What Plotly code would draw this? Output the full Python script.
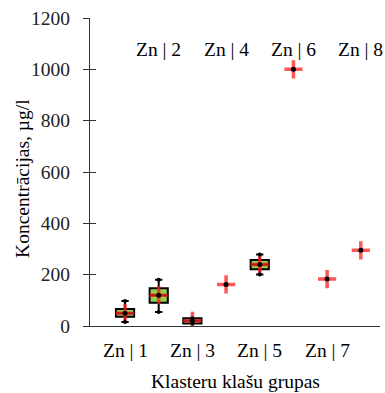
import plotly.graph_objects as go

# ---- data ----
categories = ["Zn | 1", "Zn | 2", "Zn | 3", "Zn | 4", "Zn | 5", "Zn | 6", "Zn | 7", "Zn | 8"]
box_idx = [0, 1, 2, 4]
box_lower = [16, 55, 10, 201]
box_q1 = [36, 91, 10, 221]
box_median = [50, 120, 20, 240]
box_q3 = [66, 147, 30, 257]
box_upper = [97, 180, 30, 279]
point_idx = [3, 5, 6, 7]
point_values = [162, 1000, 183, 295]
y_ticks = [0, 200, 400, 600, 800, 1000, 1200]

FONT = "'Times New Roman', 'Liberation Serif', Tinos, 'DejaVu Serif', serif"
FS = 19.5

fig = go.Figure()

fig.add_trace(go.Box(
    x=box_idx, q1=box_q1, median=box_median, q3=box_q3,
    lowerfence=box_lower, upperfence=box_upper,
    width=0.54, whiskerwidth=0.4,
    fillcolor="#92d050", line=dict(color="black", width=2),
    boxpoints=False, hoverinfo="skip", showlegend=False,
))

# red crosses at median / single values
cross_x = box_idx + point_idx
cross_y = box_median + point_values
fig.add_trace(go.Scatter(
    x=cross_x, y=cross_y, mode="markers",
    marker=dict(symbol="cross-thin", size=13,
                line=dict(color="rgba(255,30,30,0.75)", width=3.5)),
    showlegend=False, hoverinfo="skip",
))
# black centre dots
fig.add_trace(go.Scatter(
    x=cross_x, y=cross_y, mode="markers",
    marker=dict(symbol="circle", size=5, color="black"),
    showlegend=False, hoverinfo="skip",
))
# whisker end markers
fig.add_trace(go.Scatter(
    x=box_idx + box_idx, y=box_lower + box_upper, mode="markers",
    marker=dict(symbol="circle", size=4, color="black"),
    showlegend=False, hoverinfo="skip",
))

annotations = []
for i, lab in enumerate(categories):
    top = (i % 2 == 1)
    annotations.append(dict(
        x=i, xref="x", y=0.899 if top else -0.078, yref="paper",
        text=lab, showarrow=False, xanchor="center", yanchor="middle",
        font=dict(family=FONT, size=FS, color="black"),
    ))
annotations.append(dict(
    x=0.503, xref="paper", y=-0.1786, yref="paper",
    text="Klasteru klašu grupas", showarrow=False,
    xanchor="center", yanchor="middle",
    font=dict(family=FONT, size=FS, color="black"),
))
annotations.append(dict(
    x=-0.233, xref="paper", y=0.479, yref="paper",
    text="Koncentrācijas, µg/l", showarrow=False, textangle=-90,
    xanchor="center", yanchor="middle",
    font=dict(family=FONT, size=FS, color="black"),
))

fig.update_layout(
    width=385, height=393,
    margin=dict(l=90, r=5, t=18, b=67),
    paper_bgcolor="white", plot_bgcolor="white",
    font=dict(family=FONT, size=FS, color="black"),
    showlegend=False,
    annotations=annotations,
    xaxis=dict(range=[-1.04, 7.57], showgrid=False, zeroline=False,
               showline=True, linecolor="#333", linewidth=1,
               showticklabels=False, ticks=""),
    yaxis=dict(range=[0, 1200], tickvals=y_ticks, showgrid=False,
               zeroline=False, showline=True, linecolor="#333", linewidth=1,
               ticks="outside", ticklen=6, tickcolor="#333",
               ticklabelstandoff=9,
               tickfont=dict(family=FONT, size=FS, color="#222")),
    yaxis2=dict(range=[0, 1200], tickvals=y_ticks, overlaying="y",
                side="left", anchor="x", showgrid=False, zeroline=False,
                showline=False, ticks="inside", ticklen=6, tickcolor="#333",
                showticklabels=False),
)
fig.add_trace(go.Scatter(x=[None], y=[None], yaxis="y2", showlegend=False))

fig.write_html("out.html")
